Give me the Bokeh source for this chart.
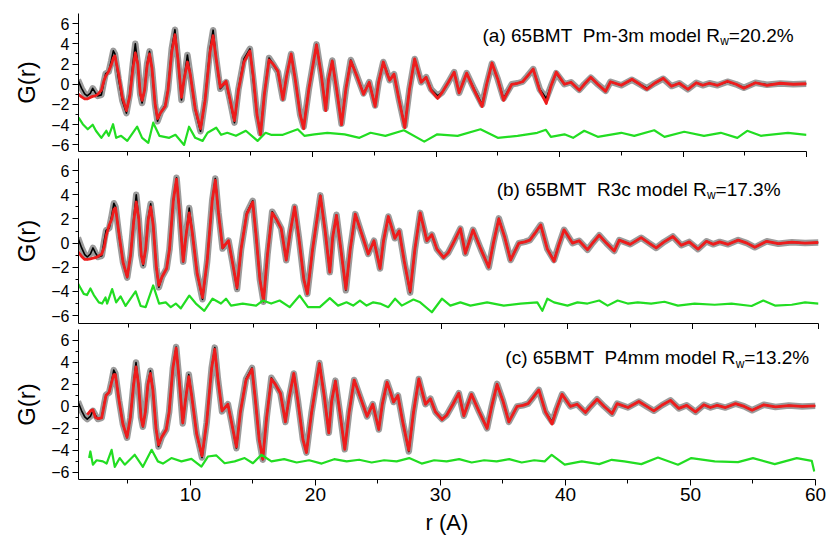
from bokeh.plotting import figure
from bokeh.layouts import column
from bokeh.models import Range1d, FixedTicker, Label
from bokeh.embed import file_html
from bokeh.resources import INLINE

NaN = float("nan")
FONT = "Liberation Sans"

# ---------------- data ----------------
R = [1.0, 1.3, 1.55, 1.75, 2.0, 2.2, 2.4, 2.6, 2.9, 3.1, 3.25, 3.5, 3.7, 3.87, 4.0, 4.3, 4.6, 4.93, 5.2, 5.45,
     5.65, 5.85, 6.05, 6.2, 6.4, 6.6, 6.8, 7.0, 7.25, 7.45, 7.7, 8.07, 8.3, 8.6, 8.86, 9.1, 9.39, 9.6, 9.87, 10.1,
     10.5, 10.93, 11.3, 11.7, 11.95, 12.2, 12.53, 13.0, 13.3, 13.68, 14.0, 14.45, 14.93, 15.2, 15.5, 15.79, 16.1,
     16.48, 16.8, 17.2, 17.6, 17.9, 18.27, 18.6, 19.0, 19.28, 19.7,
     20.32, 20.7, 21.07, 21.3, 21.6, 21.95, 22.35, 22.7, 23.1, 23.6,
     24.13, 24.59, 25.07, 25.35, 25.73, 26.0, 26.25, 26.6, 27.0, 27.47,
     27.85, 28.27, 28.8, 29.2, 29.6, 30.13, 30.5, 31.0, 31.47, 31.87,
     32.48, 33.1, 33.73, 34.1, 34.53, 35.0, 35.47, 36.13, 36.6, 37.01,
     37.4, 37.87, 38.4, 38.93, 39.3, 39.73, 40.4, 40.93, 41.6, 42.0,
     42.53, 43.1, 43.73, 44.13, 45.0, 45.87, 46.5, 47.07, 47.7, 48.4,
     49.07, 49.7, 50.4, 51.07, 51.6, 52.13, 52.8, 53.6, 54.3, 54.93,
     55.87, 56.8, 57.87, 58.93, 60.0]

G_OBS = [0.45, -0.4, -0.95, -1.15, -0.9, -0.4, -0.8, -1.15, -1.05, 0.2, 1.05, 1.25, 2.3, 3.3, 3.0, 0.5, -1.6, -2.85,
         -1.0, 2.0, 4.0, 2.0, -1.0, -1.85, -0.5, 2.0, 3.25, 1.5, -2.0, -3.65, -2.8, -2.1, -0.5, 3.5, 5.4, 2.5, -1.55,
         0.5, 2.9, 1.0, -2.5, -4.65, -1.5, 3.5, 5.35, 2.5, -0.45, 0.2, -1.5, -3.8, -0.5, 2.5, 3.5, 0.5, -3.0, -4.85, -1.0,
         2.6, 2.0, 1.2, -1.42, 0.8, 3.0, 0.5, -3.0, -4.2, -0.5,
         3.95, 1.0, -2.4, 0.5, 2.35, -0.5, -3.9, -0.5, 2.4, 0.8,
         -0.9, 0.2, -2.1, 0.2, 2.2, 1.3, 0.4, 1.0, -1.5, -4.1,
         -0.5, 2.5, 0.2, 0.7, -0.5, -1.15, -0.8, 0.2, 1.2, -0.85,
         1.1, -0.5, -2.0, 0.0, 2.05, 0.5, -1.4, 0.0, 0.1, 0.25,
         0.8, 1.5, -0.5, -1.4, -0.2, 1.1, 0.0, 0.2, -0.55, 0.0,
         0.65, 0.0, -0.65, 0.25, -0.1, 0.45, 0.0, -0.4, 0.1, 0.55,
         -0.18, 0.1, -0.5, 0.15, -0.1, 0.1, -0.1, 0.25, 0.0, -0.35,
         0.15, -0.05, 0.08, 0.0, 0.05]

G_FIT_A = [-0.95, -1.25, -1.45, -1.45, -1.3, -1.2, -1.15, -1.0, -0.6, 0.3, 0.8, 1.3, 1.9, 2.6, 2.8, 1.0, -1.3, -2.6,
           -1.2, 1.5, 3.1, 2.0, -0.9, -1.6, -0.6, 1.8, 3.0, 1.6, -1.9, -3.4, -2.8, -2.2, -0.6, 3.2, 4.9, 2.5, -1.3,
           0.5, 2.2, 1.0, -2.4, -4.4, -1.6, 3.2, 4.8, 2.5, -0.3, 0.3, -1.4, -3.6, -0.6, 2.2, 3.3, 0.8, -3.0, -5.0, -1.0,
           2.4, 2.0, 1.3, -1.5, 0.8, 3.0, 0.5, -3.0, -4.4, -0.5,
           3.9, 1.0, -2.6, 0.5, 2.3, -0.5, -4.0, -0.5, 2.3, 0.8,
           -1.0, 0.2, -2.2, 0.2, 2.2, 1.2, 0.4, 1.0, -1.5, -4.3,
           -0.5, 2.5, 0.2, 0.7, -0.6, -1.4, -0.8, 0.2, 1.2, -0.85,
           1.1, -0.6, -2.2, 0.0, 2.1, 0.5, -1.6, 0.0, 0.1, 0.25,
           0.8, 1.5, -0.6, -1.9, -0.2, 1.2, 0.0, 0.2, -0.6, 0.0,
           0.7, 0.0, -0.7, 0.25, -0.1, 0.5, 0.0, -0.5, 0.1, 0.6,
           -0.2, 0.1, -0.5, 0.15, -0.1, 0.1, -0.1, 0.3, 0.0, -0.4,
           0.15, -0.1, 0.1, 0.0, 0.05]

G_FIT_B = [-0.7, -1.1, -1.35, -1.35, -1.3, -1.25, -1.2, -1.1, -0.9, -0.3, 0.6, 1.5, 2.0, 2.8, 2.9, 0.6, -1.6, -2.8,
           -1.0, 1.8, 3.4, 2.0, -1.0, -1.7, -0.5, 1.9, 3.0, 1.5, -2.0, -3.5, -2.8, -2.1, -0.5, 3.5, 5.3, 2.5, -1.5,
           0.5, 2.5, 1.0, -2.5, -4.5, -1.5, 3.5, 5.2, 2.5, -0.4, 0.2, -1.5, -3.7, -0.5, 2.4, 3.4, 0.6, -3.0, -4.8, -1.0,
           2.5, 2.0, 1.2, -1.4, 0.8, 3.0, 0.5, -3.0, -4.2, -0.5,
           3.9, 1.0, -2.4, 0.5, 2.3, -0.5, -3.8, -0.5, 2.4, 0.8,
           -0.9, 0.2, -2.1, 0.2, 2.2, 1.3, 0.4, 1.0, -1.5, -4.0,
           -0.5, 2.5, 0.2, 0.7, -0.5, -1.2, -0.8, 0.2, 1.2, -0.85,
           1.1, -0.5, -2.0, 0.0, 2.0, 0.5, -1.4, 0.0, 0.1, 0.25,
           0.8, 1.5, -0.5, -1.5, -0.2, 1.1, 0.0, 0.2, -0.55, 0.0,
           0.65, 0.0, -0.65, 0.25, -0.1, 0.45, 0.0, -0.4, 0.1, 0.55,
           -0.18, 0.1, -0.5, 0.15, -0.1, 0.1, -0.1, 0.25, 0.0, -0.35,
           0.15, -0.05, 0.08, 0.0, 0.05]

G_FIT_C = [NaN, NaN, NaN, -0.75, -0.4, -0.3, -1.0, -1.1, -1.05, 0.1, 1.0, 1.3, 2.2, 2.9, 2.9, 0.5, -1.6, -2.8,
           -1.0, 1.9, 3.6, 2.0, -1.0, -1.8, -0.5, 2.0, 3.0, 1.5, -2.0, -3.5, -2.8, -2.1, -0.5, 3.5, 5.3, 2.5, -1.5,
           0.5, 2.7, 1.0, -2.5, -4.5, -1.5, 3.5, 5.2, 2.5, -0.4, 0.2, -1.5, -3.7, -0.5, 2.4, 3.4, 0.6, -3.0, -4.8, -1.0,
           2.5, 2.0, 1.2, -1.4, 0.8, 3.0, 0.5, -3.0, -4.2, -0.5,
           3.9, 1.0, -2.4, 0.5, 2.3, -0.5, -3.9, -0.5, 2.4, 0.8,
           -0.9, 0.2, -2.1, 0.2, 2.2, 1.3, 0.4, 1.0, -1.5, -4.0,
           -0.5, 2.5, 0.2, 0.7, -0.5, -1.2, -0.8, 0.2, 1.2, -0.85,
           1.1, -0.5, -2.0, 0.0, 2.0, 0.5, -1.4, 0.0, 0.1, 0.25,
           0.8, 1.5, -0.5, -1.6, -0.2, 1.1, 0.0, 0.2, -0.55, 0.0,
           0.65, 0.0, -0.65, 0.25, -0.1, 0.45, 0.0, -0.4, 0.1, 0.55,
           -0.18, 0.1, -0.5, 0.15, -0.1, 0.1, -0.1, 0.25, 0.0, -0.35,
           0.15, -0.05, 0.08, 0.0, 0.05]

# difference curves (drawn offset at -5)
DIFF_A_R = [1.06, 1.4, 1.8, 2.2, 2.46, 2.9, 3.3, 3.5, 3.85, 4.1, 4.5, 5.0, 5.8, 6.2, 6.7, 7.1, 7.6, 8.4, 8.9, 9.6,
            10.0, 10.5, 11.1, 11.5, 12.2, 12.6, 13.1, 13.8, 14.6, 15.55, 16.2, 16.64, 17.6, 18.8, 19.34, 20.15, 21.2,
            22.6, 23.8, 24.7, 25.9, 27.4, 29.05, 30.1, 31.75, 33.6, 35.0, 36.6, 38.2, 38.9, 39.3, 40.4, 41.1, 42.0,
            43.1, 45.0, 46.05, 47.67, 48.5, 50.1, 51.7, 53.06, 54.4, 55.2, 56.3, 58.5, 60.0]
DIFF_A_G = [-3.3, -3.95, -4.45, -4.0, -4.6, -5.3, -4.6, -5.1, -3.95, -5.3, -5.1, -5.6, -4.2, -5.3, -5.8, -3.8, -5.1,
            -5.3, -5.0, -6.0, -4.2, -5.3, -5.6, -4.8, -4.3, -5.0, -4.8, -5.1, -4.6, -5.6, -4.8, -5.0, -5.0, -4.45,
            -5.1, -4.95, -4.8, -4.95, -5.3, -4.8, -5.1, -4.55, -5.67, -4.95, -5.1, -4.45, -5.3, -5.1, -4.8, -4.5,
            -5.2, -4.95, -5.3, -4.6, -5.2, -4.8, -5.1, -4.55, -5.2, -4.7, -5.1, -4.8, -5.3, -4.6, -5.1, -4.8, -5.0]

DIFF_B_R = [1.02, 1.47, 1.73, 2.0, 2.27, 2.67, 2.93, 3.2, 3.33, 3.73, 4.05, 4.4, 4.8, 5.6, 6.0, 6.4, 7.0, 7.47, 8.0,
            8.4, 8.8, 9.2, 9.87, 10.4, 11.07, 11.73, 12.4, 12.8, 13.2, 14.13, 15.2, 15.73, 16.4, 17.07, 17.87, 18.67,
            19.33, 20.27, 21.07, 21.73, 22.4, 22.93, 23.47, 24.0, 24.53, 25.07, 25.73, 26.27, 26.8, 27.73, 28.27,
            29.2, 30.0, 30.67, 31.47, 32.27, 33.6, 34.93, 36.27, 37.6, 38.0, 38.4, 38.93, 40.0, 40.8, 41.6, 42.53,
            43.2, 44.0, 44.8, 45.6, 46.67, 47.73, 48.8, 50.13, 51.73, 53.07, 54.67, 55.6, 56.53, 57.87, 58.93, 60.0]
DIFF_B_G = [-3.36, -4.2, -4.3, -3.75, -4.3, -4.9, -5.0, -4.5, -5.0, -3.8, -4.9, -4.4, -5.2, -4.0, -5.2, -5.3, -3.5,
            -5.0, -4.9, -5.3, -5.0, -5.4, -4.34, -5.0, -5.6, -4.6, -5.0, -4.6, -5.17, -5.0, -5.17, -4.75, -5.0, -4.75,
            -5.3, -4.34, -5.3, -5.3, -4.55, -5.17, -4.9, -5.17, -4.75, -5.17, -4.9, -5.0, -5.3, -4.6, -5.17, -4.67,
            -4.9, -5.72, -4.6, -5.17, -4.9, -5.17, -4.9, -5.17, -5.0, -4.9, -5.6, -4.6, -4.9, -5.17, -4.9, -5.0,
            -4.75, -5.17, -4.75, -5.0, -4.9, -5.0, -4.85, -5.17, -5.0, -5.1, -5.0, -5.2, -4.75, -5.17, -5.1, -4.9,
            -5.0]

DIFF_C_R = [1.9, 2.0, 2.2, 2.5, 3.0, 3.3, 3.7, 3.95, 4.35, 4.75, 5.55, 6.2, 6.9, 7.4, 7.8, 8.48, 9.28, 10.08, 10.88,
            11.4, 12.08, 12.74, 13.54, 14.34, 15.0, 15.68, 16.48, 17.5, 18.5, 19.5, 20.5, 21.5, 22.5, 23.5, 24.5,
            25.5, 26.5, 27.5, 28.5, 29.5, 30.5, 31.5, 32.5, 33.5, 34.5, 35.5, 36.5, 37.5, 38.34, 38.9, 39.94, 41.3,
            42.7, 43.7, 44.7, 46.07, 47.4, 49.0, 50.07, 51.94, 53.8, 55.0, 56.74, 58.5, 59.7, 59.9]
DIFF_C_G = [-4.7, -4.1, -5.3, -4.9, -5.0, -5.2, -3.95, -5.5, -4.7, -5.3, -4.4, -5.5, -3.95, -5.0, -5.2, -4.7, -5.0,
            -4.77, -5.47, -4.56, -4.46, -5.17, -5.0, -4.7, -5.17, -4.4, -5.0,
            -4.8, -5.1, -4.9, -5.2, -4.8, -5.0, -4.85, -5.1, -4.9, -5.0, -4.7, -5.2, -4.9, -5.0, -4.8, -5.1, -4.9,
            -5.0, -4.8, -5.1, -4.9,
            -5.0, -4.4, -5.3, -5.0, -5.25, -4.86, -5.0, -5.25, -4.65, -5.3, -4.7, -5.0, -5.07, -4.7, -5.25, -4.7,
            -4.95, -5.93]

X_TICKS = [10, 20, 30, 40, 50, 60]
X_MINOR = [5, 15, 25, 35, 45, 55]
Y_TICKS = [-6, -4, -2, 0, 2, 4, 6]
Y_MINOR = [-5, -3, -1, 1, 3, 5]

NB = "\u00a0"
TITLES = [
    ("(a) 65BMT" + NB + " Pm-3m model R", "w", "=20.2%"),
    ("(b) 65BMT" + NB + " R3c model R", "w", "=17.3%"),
    ("(c) 65BMT" + NB + " P4mm model R", "w", "=13.2%"),
]

# ---------------- layout ----------------
X_RANGE = (1.05, 60.0)
Y_RANGE = (-6.65, 7.0)

panels = [
    dict(fit=G_FIT_A, dr=DIFF_A_R, dg=DIFF_A_G, fw=728, fh=138, left=78, right=21, top=13, bottom=5,
         tx=53.0, ty=4.82, wy=4.25),
    dict(fit=G_FIT_B, dr=DIFF_B_R, dg=DIFF_B_G, fw=740, fh=165, left=73, right=14, top=1, bottom=6,
         tx=51.1, ty=4.44, wy=3.95),
    dict(fit=G_FIT_C, dr=DIFF_C_R, dg=DIFF_C_G, fw=737, fh=150, left=72, right=18, top=0, bottom=50,
         tx=53.6, ty=4.45, wy=3.9),
]

figs = []
for i, cfg in enumerate(panels):
    p = figure(frame_width=cfg["fw"], frame_height=cfg["fh"],
               x_range=Range1d(*X_RANGE), y_range=Range1d(*Y_RANGE),
               output_backend="svg", toolbar_location=None,
               min_border_left=cfg["left"], min_border_right=cfg["right"],
               min_border_top=cfg["top"], min_border_bottom=cfg["bottom"])
    p.xgrid.visible = False
    p.ygrid.visible = False
    p.outline_line_color = None
    p.background_fill_color = "white"
    p.border_fill_color = "white"

    # curves
    p.line(R, G_OBS, line_color="#8a8a8a", line_width=6.5, line_alpha=0.85, line_join="round")
    p.line(R, G_OBS, line_color="black", line_width=1.6, line_join="round")
    p.line(R, cfg["fit"], line_color="#ee1c1c", line_width=2.8, line_join="round")
    p.line(cfg["dr"], cfg["dg"], line_color="#22dd22", line_width=2.2, line_join="round")

    # axes
    xa = p.xaxis[0]
    xa.ticker = FixedTicker(ticks=X_TICKS, minor_ticks=X_MINOR)
    xa.major_tick_out = 6
    xa.major_tick_in = 0
    xa.minor_tick_out = 4
    xa.minor_tick_in = 0
    xa.axis_line_color = "black"
    xa.major_tick_line_color = "black"
    xa.minor_tick_line_color = "black"
    if i < 2:
        xa.major_label_text_color = None
        xa.major_label_text_font_size = "1px"
        xa.major_label_standoff = 0
    else:
        xa.major_label_text_font = FONT
        xa.major_label_text_font_size = "19px"
        xa.major_label_text_color = "black"
        xa.major_label_standoff = 2
        xa.axis_label = "r (A)"
        xa.axis_label_text_font = FONT
        xa.axis_label_text_font_size = "22px"
        xa.axis_label_text_font_style = "normal"
        xa.axis_label_text_color = "black"
        xa.axis_label_standoff = 6

    ya = p.yaxis[0]
    ya.ticker = FixedTicker(ticks=Y_TICKS, minor_ticks=Y_MINOR)
    ya.major_tick_out = 6
    ya.major_tick_in = 0
    ya.minor_tick_out = 3
    ya.minor_tick_in = 0
    ya.axis_line_color = "black"
    ya.major_label_text_font = FONT
    ya.major_label_text_font_size = "16px"
    ya.major_label_text_color = "black"
    ya.major_label_standoff = 3
    ya.axis_label = "G(r)"
    ya.axis_label_text_font = FONT
    ya.axis_label_text_font_size = "24px"
    ya.axis_label_text_font_style = "normal"
    ya.axis_label_text_color = "black"
    ya.axis_label_standoff = 8

    main, sub, tail = TITLES[i]
    p.add_layout(Label(x=cfg["tx"], y=cfg["ty"], text=main, text_align="right", text_baseline="alphabetic",
                       text_font=FONT, text_font_size="19px", text_color="black"))
    p.add_layout(Label(x=cfg["tx"] + 0.02, y=cfg["wy"], text=sub, text_align="left", text_baseline="alphabetic",
                       text_font=FONT, text_font_size="12px", text_color="black"))
    p.add_layout(Label(x=cfg["tx"] + 0.7, y=cfg["ty"], text=tail, text_align="left", text_baseline="alphabetic",
                       text_font=FONT, text_font_size="19px", text_color="black"))
    figs.append(p)

layout = column(*figs, spacing=0)
open("out.html", "w").write(file_html(layout, INLINE))
